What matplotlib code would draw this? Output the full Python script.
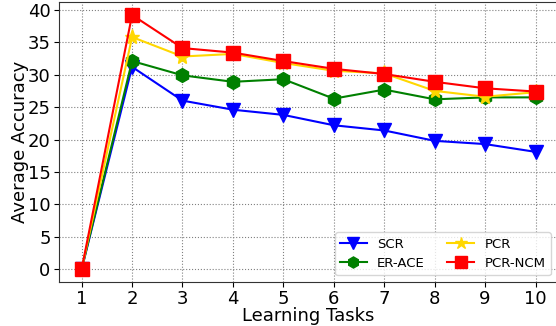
import matplotlib
matplotlib.use("Agg")
import matplotlib.pyplot as plt

# average accuracy after each learning task
tasks = [1, 2, 3, 4, 5, 6, 7, 8, 9, 10]
scr = [0, 31.2, 26.0, 24.6, 23.8, 22.2, 21.4, 19.8, 19.3, 18.1]
er_ace = [0, 32.1, 29.9, 28.9, 29.3, 26.3, 27.7, 26.2, 26.5, 26.5]
pcr = [0, 35.8, 32.8, 33.2, 31.8, 30.6, 30.2, 27.5, 26.6, 27.3]
pcr_ncm = [0, 39.2, 34.1, 33.4, 32.1, 30.9, 30.1, 28.9, 27.9, 27.4]

fig = plt.figure(figsize=(5.56, 3.26), dpi=100)
ax = fig.add_axes([0.106, 0.135, 0.898, 0.858])

ax.plot(tasks, scr, color="blue", marker="v", markersize=10, linewidth=1.5, label="SCR")
ax.plot(tasks, er_ace, color="green", marker="h", markersize=10, linewidth=1.5, label="ER-ACE")
ax.plot(tasks, pcr, color="gold", marker="*", markersize=11, linewidth=1.5, label="PCR")
ax.plot(tasks, pcr_ncm, color="red", marker="s", markersize=10, linewidth=1.5, label="PCR-NCM")

ax.set_xticks(tasks)
ax.set_yticks([0, 5, 10, 15, 20, 25, 30, 35, 40])
ax.tick_params(labelsize=13, pad=2.5)
ax.set_xlabel("Learning Tasks", fontsize=13, labelpad=-1)
ax.set_ylabel("Average Accuracy", fontsize=13, labelpad=-1)
ax.grid(True, linestyle=":", color="gray", linewidth=0.8)
for s in ax.spines.values():
    s.set_color("#333333")

ax.legend(loc="lower right", ncol=2, fontsize=9.5, markerscale=0.8,
          bbox_to_anchor=(0.998, 0.0), handlelength=2.0, columnspacing=1.7)

plt.savefig("out.png", dpi=100)
